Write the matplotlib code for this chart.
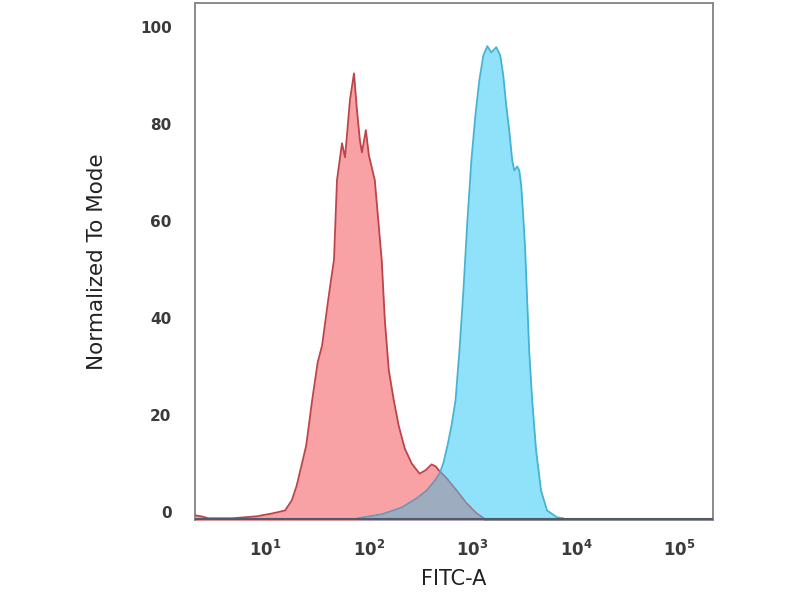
import matplotlib.pyplot as plt
import numpy as np

# isotype / negative control (red)
red_x = [2.1, 2.4, 2.8, 4.8, 8.2, 11.7, 15.5, 18, 20, 22.7, 24.8, 28.3, 32, 35.3,
         40.4, 43, 46, 49.2, 55, 58.8, 61.4, 65.6, 71.8, 76.7, 81.9, 85.7, 93.5,
         100, 114, 133, 142.6, 155.7, 174, 194, 222, 259, 309, 353, 403, 441, 482,
         563, 702, 873, 1092, 1276]
red_y = [-0.6, -0.8, -1.2, -1.2, -0.8, -0.2, 0.4, 2.5, 5.4, 10.3, 13.8, 23.1, 30.9, 34.4,
         43.7, 47.8, 52.0, 68.5, 76.1, 73.2, 77.7, 85.0, 90.5, 82.9, 76.7, 74.2, 78.8,
         73.6, 68.5, 52.0, 39.6, 29.3, 23.1, 17.9, 13.2, 10.1, 8.0, 8.7, 9.9, 9.5, 8.5,
         7.0, 4.5, 1.9, -0.2, -1.2]

# stained sample (blue)
blue_x = [78, 133, 207, 290, 361, 422, 482, 526, 575, 628, 687, 750, 819, 895, 978,
          1069, 1167, 1276, 1393, 1523, 1700, 1858, 1986, 2122, 2268, 2424, 2535,
          2709, 2833, 2961, 3096, 3236, 3382, 3535, 3779, 4123, 4605, 5262, 6567, 7500]
blue_y = [-1.2, -0.4, 1.0, 2.9, 4.5, 6.2, 8.0, 10.3, 13.8, 17.9, 23.1, 33.4, 45.8, 60.2, 72.6,
          81.9, 89.1, 94.2, 96.1, 94.8, 95.9, 94.2, 90.1, 83.9, 78.8, 72.6, 70.5,
          71.3, 70.5, 67.4, 61.2, 54.0, 43.7, 33.4, 23.1, 12.8, 4.5, 0.4, -1.0, -1.2]

y_ticks = [0, 20, 40, 60, 80, 100]
x_ticks = [1e1, 1e2, 1e3, 1e4, 1e5]
x_labels = [r"$\mathbf{10^{1}}$", r"$\mathbf{10^{2}}$", r"$\mathbf{10^{3}}$",
            r"$\mathbf{10^{4}}$", r"$\mathbf{10^{5}}$"]

base = -1.6

fig = plt.figure(figsize=(8, 6), dpi=100)
ax = fig.add_axes([0.244, 0.133, 0.647, 0.862])

ax.fill_between(blue_x, blue_y, base, color="#8fe2fa", lw=0, zorder=2)
ax.fill_between(red_x, red_y, base, color="#f8a2a5", lw=0, zorder=3)
ax.plot(red_x, red_y, color="#be444b", lw=1.3, zorder=4)
ax.plot(blue_x, blue_y, color="#45b4d4", lw=1.3, zorder=4)

# overlap of the two histograms shown in grey
grid = np.logspace(np.log10(78), np.log10(1276), 300)
r = np.interp(np.log10(grid), np.log10(red_x), red_y)
b = np.interp(np.log10(grid), np.log10(blue_x), blue_y)
both = np.minimum(r, b)
ax.fill_between(grid, both, base, color="#9eacc0", lw=0, zorder=5)
ax.plot(grid, both, color="#7f8fa8", lw=0.9, zorder=6)
ax.axhline(base + 0.3, color="#4f5a6a", lw=1.5, zorder=7)

ax.set_xscale("log")
ax.set_xlim(2.1, 2.1e5)
ax.set_ylim(base, 105)
ax.set_yticks(y_ticks)
ax.set_yticklabels([str(v) for v in y_ticks], fontweight="bold")
ax.set_xticks(x_ticks)
ax.set_xticklabels(x_labels)
ax.minorticks_off()
ax.tick_params(length=0, colors="#3a3a3a", labelsize=11)
ax.tick_params(axis="y", pad=17)
ax.tick_params(axis="x", pad=14, labelsize=12)
for s in ax.spines.values():
    s.set_color("#8a8a8a")
    s.set_linewidth(1.4)

ax.set_xlabel("FITC-A", fontsize=15, color="#222222", labelpad=7)
ax.set_ylabel("Normalized To Mode", fontsize=15.5, color="#222222", labelpad=24)

fig.savefig("out.png", dpi=100)
